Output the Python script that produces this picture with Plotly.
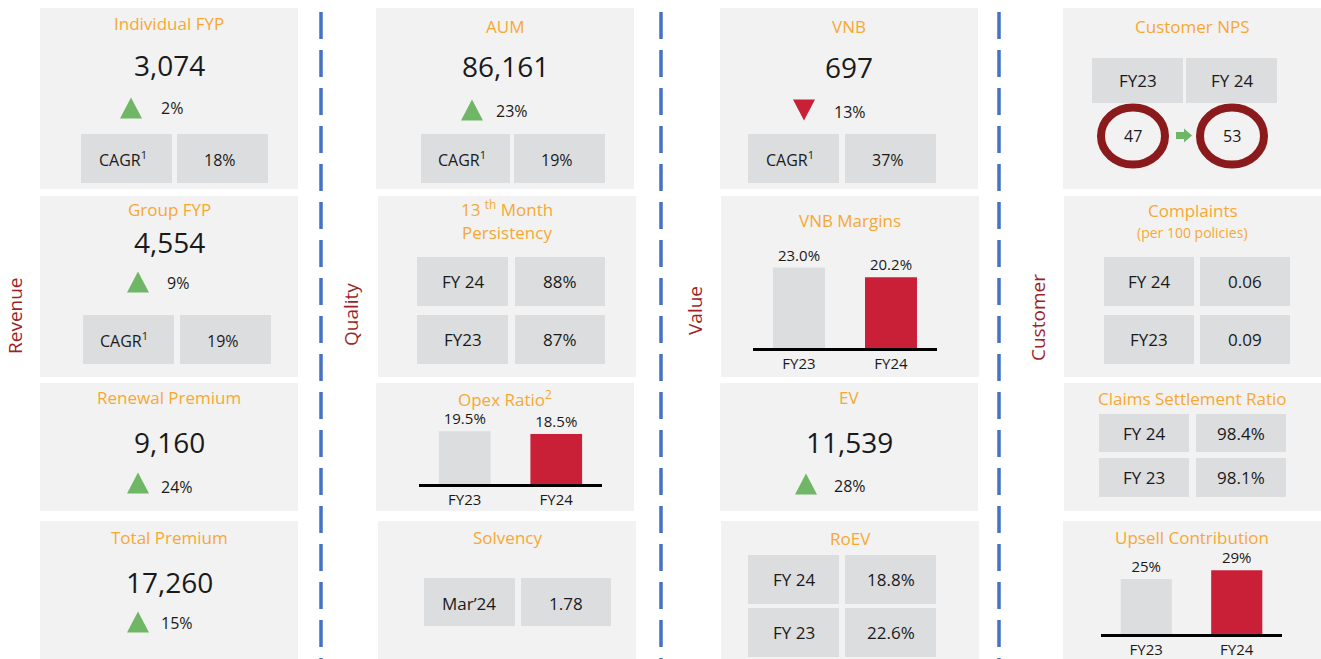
import plotly.graph_objects as go

# ---------------- data ----------------
section_labels = ["Revenue", "Quality", "Value", "Customer"]

kpi_titles = ["Individual FYP", "Group FYP", "Renewal Premium", "Total Premium", "AUM", "VNB", "EV"]
kpi_values = [3074, 4554, 9160, 17260, 86161, 697, 11539]
kpi_growth = [2, 9, 24, 15, 23, -13, 28]
kpi_cagr = [18, 19, None, None, 19, 37, None]

bar_years = ["FY23", "FY24"]
opex_ratio = [19.5, 18.5]
vnb_margin = [23.0, 20.2]
upsell_contribution = [25, 29]

persistency_years = ["FY 24", "FY23"]
persistency = [88, 87]
complaints_years = ["FY 24", "FY23"]
complaints = [0.06, 0.09]
claims_years = ["FY 24", "FY 23"]
claims_ratio = [98.4, 98.1]
roev_years = ["FY 24", "FY 23"]
roev = [18.8, 22.6]
solvency_label = "Mar\u201924"
solvency = 1.78
nps_years = ["FY23", "FY 24"]
nps = [47, 53]

# ---------------- style ----------------
W, H = 1321, 659
FONT = "Open Sans"
BOX = "#F2F2F2"
CELL = "#DCDDDF"
ORANGE = "#F7A832"
TXT = "#1A1A1A"
SECT = "#9E1F26"
RED = "#C92038"
GRAYBAR = "#DCDDDF"
GREEN = "#6FB766"
BLUE = "#4472C4"
RING = "#8B1A1C"


def X(x):
    return x / W


def Y(y):
    return 1 - y / H


shapes = []
annotations = []


def rect(x0, y0, x1, y1, color):
    shapes.append(dict(type="rect", xref="paper", yref="paper", x0=X(x0), x1=X(x1),
                       y0=Y(y1), y1=Y(y0), fillcolor=color, line_width=0, layer="below"))


def text(x, y, s, size, color=TXT, xanchor="center", angle=0):
    annotations.append(dict(x=X(x), y=Y(y), xref="paper", yref="paper", text=s, showarrow=False,
                            font=dict(size=size, color=color, family=FONT), xanchor=xanchor,
                            yanchor="middle", textangle=angle))


def triangle(cx, cy, up, w=22, h=21):
    if up:
        pts = [(cx - w / 2, cy + h / 2), (cx + w / 2, cy + h / 2), (cx, cy - h / 2)]
        col = GREEN
    else:
        pts = [(cx - w / 2, cy - h / 2), (cx + w / 2, cy - h / 2), (cx, cy + h / 2)]
        col = RED
    path = "M " + " L ".join(f"{X(a)},{Y(b)}" for a, b in pts) + " Z"
    shapes.append(dict(type="path", xref="paper", yref="paper", path=path, fillcolor=col,
                       line_width=0, layer="below"))


# ---------------- section labels and dashed dividers ----------------
sect_pos = [(15, 316), (351, 315), (695, 311), (1038, 318)]
for lab, (sx, sy) in zip(section_labels, sect_pos):
    text(sx, sy, lab, 19, SECT, angle=-90)

for dx in [321, 661, 999]:
    shapes.append(dict(type="line", xref="paper", yref="paper", x0=X(dx), x1=X(dx), y0=Y(12), y1=Y(662),
                       line=dict(color=BLUE, width=3.5, dash="27px,11px"), layer="below"))

# ---------------- KPI boxes ----------------
kpi_layout = [
    dict(box=(40, 8, 298, 189), ty=24, vy=65, tri=(131, 108), px=159, py=108,
         cells=((81, 172), (177, 268), (134, 183))),
    dict(box=(40, 196, 298, 377), ty=209, vy=242, tri=(138, 282), px=165, py=283,
         cells=((83, 174), (180, 271), (315, 364))),
    dict(box=(40, 383, 298, 511), ty=397, vy=442, tri=(138, 483), px=159, py=487, cells=None),
    dict(box=(40, 521, 298, 662), ty=537, vy=582, tri=(138, 622), px=159, py=623, cells=None),
    dict(box=(376, 8, 634, 189), ty=27, vy=66, tri=(472, 110), px=494, py=111,
         cells=((421, 510), (514, 605), (134, 183))),
    dict(box=(720, 8, 978, 189), ty=27, vy=67, tri=(804, 110), px=832, py=112,
         cells=((748, 839), (845, 936), (134, 183))),
    dict(box=(720, 383, 978, 511), ty=397, vy=442, tri=(806, 484), px=832, py=486, cells=None),
]

for title, val, g, cg, L in zip(kpi_titles, kpi_values, kpi_growth, kpi_cagr, kpi_layout):
    bx0, by0, bx1, by1 = L["box"]
    rect(bx0, by0, bx1, by1, BOX)
    cx = (bx0 + bx1) / 2
    text(cx, L["ty"], title, 17, ORANGE)
    text(cx, L["vy"], f"{val:,}", 28, TXT)
    triangle(L["tri"][0], L["tri"][1], g >= 0)
    text(L["px"], L["py"], f"{abs(g)}%", 16, TXT, xanchor="left")
    if L["cells"] is not None and cg is not None:
        (a0, a1), (b0, b1), (c0, c1) = L["cells"]
        rect(a0, c0, a1, c1, CELL)
        rect(b0, c0, b1, c1, CELL)
        text((a0 + a1) / 2 - 4, (c0 + c1) / 2, "CAGR<sup>1</sup>", 16)
        text((b0 + b1) / 2 - 3, (c0 + c1) / 2 + 1, f"{cg}%", 16)


# ---------------- two-row tables ----------------
def table(box, title_lines, rows_x, rows_y, labels, values, fmt):
    bx0, by0, bx1, by1 = box
    rect(bx0, by0, bx1, by1, BOX)
    cx = (bx0 + bx1) / 2
    for (t, ty, ts) in title_lines:
        text(cx, ty, t, ts, ORANGE)
    (a0, a1), (b0, b1) = rows_x
    for (r0, r1), lab, v in zip(rows_y, labels, values):
        rect(a0, r0, a1, r1, CELL)
        rect(b0, r0, b1, r1, CELL)
        text((a0 + a1) / 2, (r0 + r1) / 2, lab, 17)
        text((b0 + b1) / 2, (r0 + r1) / 2, fmt(v), 17)


table((378, 196, 636, 377), [("13 <sup>th</sup> Month", 208, 17), ("Persistency", 232, 17)],
      ((417, 508), (515, 605)), ((257, 306), (315, 364)), persistency_years, persistency,
      lambda v: f"{v}%")
table((1064, 196, 1321, 377), [("Complaints", 210, 17), ("(per 100 policies)", 232, 14)],
      ((1104, 1194), (1200, 1290)), ((257, 306), (315, 364)), complaints_years, complaints,
      lambda v: f"{v:.2f}")
table((1064, 383, 1321, 511), [("Claims Settlement Ratio", 398, 17)],
      ((1099, 1189), (1196, 1286)), ((414, 452), (458, 497)), claims_years, claims_ratio,
      lambda v: f"{v:.1f}%")
table((721, 521, 979, 662), [("RoEV", 538, 17)],
      ((748, 839), (845, 936)), ((555, 604), (608, 657)), roev_years, roev,
      lambda v: f"{v:.1f}%")

# Solvency
rect(378, 521, 636, 662, BOX)
text(507, 537, "Solvency", 17, ORANGE)
rect(424, 578, 515, 626, CELL)
rect(521, 578, 611, 626, CELL)
text(469, 603, solvency_label, 17)
text(566, 603, f"{solvency:.2f}", 17)

# Customer NPS
rect(1063, 8, 1321, 189, BOX)
text(1192, 27, "Customer NPS", 17, ORANGE)
nps_cells = [(1092, 1183), (1186, 1277)]
ring_cx = [1133, 1232]
for (c0, c1), yr, v, rc in zip(nps_cells, nps_years, nps, ring_cx):
    rect(c0, 58, c1, 103, CELL)
    text((c0 + c1) / 2, 81, yr, 17)
    shapes.append(dict(type="circle", xref="paper", yref="paper", x0=X(rc - 32), x1=X(rc + 32),
                       y0=Y(136 + 28.5), y1=Y(136 - 28.5), line=dict(color=RING, width=8),
                       fillcolor="rgba(0,0,0,0)", layer="below"))
    text(rc, 136, f"{v}", 16)
arrow = [(1176, 132), (1184, 132), (1184, 128.5), (1192, 135.5), (1184, 142.5), (1184, 139), (1176, 139)]
shapes.append(dict(type="path", xref="paper", yref="paper",
                   path="M " + " L ".join(f"{X(a)},{Y(b)}" for a, b in arrow) + " Z",
                   fillcolor=GREEN, line_width=0, layer="below"))

# ---------------- bar charts ----------------
fig = go.Figure()
bar_specs = [
    # (values, box, title, title_y, x0, x1, base, px_per_unit, range, fmt)
    (opex_ratio, (376, 383, 634, 511), "Opex Ratio<sup>2</sup>", 398, 419, 602, 484, 2.7, 24, "{:.1f}%"),
    (vnb_margin, (721, 196, 979, 377), "VNB Margins", 220, 753, 937, 348, 3.5, 24, "{:.1f}%"),
    (upsell_contribution, (1063, 521, 1321, 662), "Upsell Contribution", 537, 1101, 1282, 634, 2.2, 30, "{:.0f}%"),
]
layout_axes = {}
for i, (vals, box, title, ty, x0, x1, base, scale, R, fmt) in enumerate(bar_specs, start=1):
    rect(*box, BOX)
    text((box[0] + box[2]) / 2, ty, title, 17, ORANGE)
    sfx = "" if i == 1 else str(i)
    fig.add_trace(go.Bar(x=bar_years, y=vals, xaxis="x" + sfx, yaxis="y" + sfx,
                         marker=dict(color=[GRAYBAR, RED], line_width=0), width=0.565,
                         text=[fmt.format(v) for v in vals], textposition="outside",
                         textfont=dict(size=15, color=TXT, family=FONT), constraintext="none",
                         cliponaxis=False, showlegend=False, hoverinfo="skip"))
    layout_axes["xaxis" + sfx] = dict(domain=[X(x0), X(x1)], anchor="y" + sfx, range=[-0.5, 1.5],
                                      showline=True, linecolor="black", linewidth=2.5, showgrid=False,
                                      zeroline=False, ticks="", fixedrange=True,
                                      tickfont=dict(size=15, color=TXT, family=FONT))
    layout_axes["yaxis" + sfx] = dict(domain=[Y(base), Y(base - R * scale)], anchor="x" + sfx,
                                      range=[0, R], visible=False, fixedrange=True)

fig.update_layout(
    width=W, height=H, autosize=False,
    margin=dict(l=0, r=0, t=0, b=0),
    paper_bgcolor="white", plot_bgcolor="rgba(0,0,0,0)",
    font=dict(family=FONT, color=TXT),
    shapes=shapes, annotations=annotations,
    bargap=0.4,
    **layout_axes,
)

fig.write_html("out.html", config={"displayModeBar": False},
               post_script="document.body.style.margin='0';document.body.style.overflow='hidden';")
